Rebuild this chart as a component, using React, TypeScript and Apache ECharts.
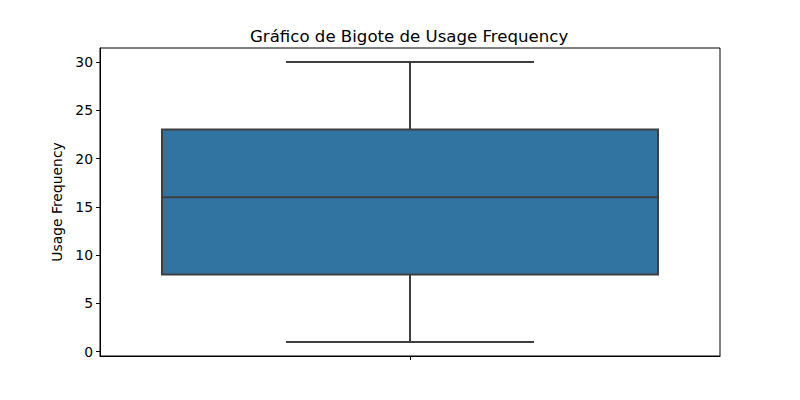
import React, { useEffect, useRef } from "react";
import * as echarts from "echarts";

const categories = [""];
// [min, Q1, median, Q3, max]
const boxValues = [[1, 8, 16, 23, 30]];
const yTicks = [0, 5, 10, 15, 20, 25, 30];

export default function App() {
  const ref = useRef<HTMLDivElement>(null);
  useEffect(() => {
    const chart = echarts.init(ref.current!, null, { renderer: "svg" });
    const font = "DejaVu Sans";
    chart.setOption({
      animation: false,
      backgroundColor: "#ffffff",
      title: {
        text: "Gráfico de Bigote de Usage Frequency",
        left: 245,
        top: 23,
        textStyle: { fontFamily: font, fontSize: 16.6, fontWeight: "normal", color: "#000" },
      },
      grid: {
        left: 100,
        right: 80,
        top: 48,
        bottom: 44,
        show: true,
        borderColor: "#000",
        borderWidth: 1,
        backgroundColor: "transparent",
      },
      xAxis: {
        type: "category",
        data: categories,
        boundaryGap: true,
        axisLine: { show: true, onZero: false, lineStyle: { color: "#000", width: 1 } },
        axisTick: { show: true, alignWithLabel: true, length: 4, lineStyle: { color: "#000" } },
        axisLabel: { show: false },
        splitLine: { show: false },
      },
      yAxis: {
        type: "value",
        min: -0.45,
        max: 31.45,
        name: "Usage Frequency",
        nameLocation: "middle",
        nameGap: 34,
        nameTextStyle: { fontFamily: font, fontSize: 13.9, color: "#000" },
        axisLine: { show: true, lineStyle: { color: "#000", width: 1 } },
        axisTick: { show: true, length: 4, customValues: yTicks, lineStyle: { color: "#000" } },
        axisLabel: { customValues: yTicks, fontFamily: font, fontSize: 13.9, color: "#000", margin: 7 },
        splitLine: { show: false },
      },
      series: [
        {
          type: "custom",
          data: boxValues.map((v, i) => [i, ...v]),
          encode: { x: 0, y: [1, 2, 3, 4, 5] },
          renderItem: (params: any, api: any) => {
            const x = api.value(0);
            const mn = api.coord([x, api.value(1)]);
            const q1 = api.coord([x, api.value(2)]);
            const md = api.coord([x, api.value(3)]);
            const q3 = api.coord([x, api.value(4)]);
            const mx = api.coord([x, api.value(5)]);
            const bw = api.size([1, 0])[0] * 0.8;
            const cw = bw / 2;
            const cx = mn[0];
            const edge = "#3f3f3f";
            const ls = { stroke: edge, lineWidth: 2 };
            return {
              type: "group",
              children: [
                { type: "line", shape: { x1: cx, y1: q3[1], x2: cx, y2: mx[1] }, style: ls },
                { type: "line", shape: { x1: cx, y1: q1[1], x2: cx, y2: mn[1] }, style: ls },
                { type: "line", shape: { x1: cx - cw / 2, y1: mx[1], x2: cx + cw / 2, y2: mx[1] }, style: ls },
                { type: "line", shape: { x1: cx - cw / 2, y1: mn[1], x2: cx + cw / 2, y2: mn[1] }, style: ls },
                {
                  type: "rect",
                  shape: { x: cx - bw / 2, y: q3[1], width: bw, height: q1[1] - q3[1] },
                  style: { fill: "#3274a1", stroke: edge, lineWidth: 2 },
                },
                { type: "line", shape: { x1: cx - bw / 2, y1: md[1], x2: cx + bw / 2, y2: md[1] }, style: ls },
              ],
            };
          },
        },
      ],
    });
    return () => chart.dispose();
  }, []);
  return <div ref={ref} style={{ width: 800, height: 400, position: "absolute", left: 0, top: 0 }} />;
}
